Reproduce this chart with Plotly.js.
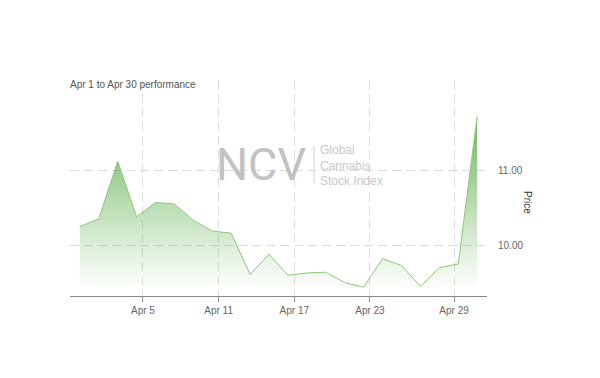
<!DOCTYPE html>
<html>
<head>
<meta charset="utf-8">
<script src="https://cdn.plot.ly/plotly-3.0.1.min.js"></script>
<style>html,body{margin:0;padding:0;background:#fff;}#chart{width:600px;height:378px;}</style>
</head>
<body>
<div id="chart"></div>
<script>
// Trading days (closing values at 16:00)
const dates = ["2019-04-01","2019-04-02","2019-04-03","2019-04-04","2019-04-05",
  "2019-04-08","2019-04-09","2019-04-10","2019-04-11","2019-04-12",
  "2019-04-15","2019-04-16","2019-04-17","2019-04-18","2019-04-19",
  "2019-04-22","2019-04-23","2019-04-24","2019-04-25","2019-04-26",
  "2019-04-29","2019-04-30"];
const prices = [10.26,10.36,11.13,10.39,10.58,
  10.56,10.34,10.20,10.17,9.62,
  9.89,9.61,9.64,9.65,9.51,
  9.45,9.83,9.74,9.46,9.71,
  9.76,11.73];
const tickDates = ["2019-04-05","2019-04-11","2019-04-17","2019-04-23","2019-04-29"];
const tickLabels = ["Apr 5","Apr 11","Apr 17","Apr 23","Apr 29"];
const yTicks = [10, 11];
const watermarkLines = ["Global", "Cannabis", "Stock Index"];

// ordinal axis: points are evenly spaced; tick positions interpolate between closes
const closeTimes = dates.map(d => Date.parse(d + "T16:00:00Z"));
const xIdx = dates.map((d, i) => i);
function ordinalPos(dateStr) {
  const t = Date.parse(dateStr + "T00:00:00Z");
  for (let i = 0; i < closeTimes.length - 1; i++) {
    if (t >= closeTimes[i] && t < closeTimes[i + 1]) {
      return i + (t - closeTimes[i]) / (closeTimes[i + 1] - closeTimes[i]);
    }
  }
  return 0;
}
const tickPos = tickDates.map(ordinalPos);

const trace = {
  x: xIdx, y: prices, type: "scatter", mode: "lines",
  line: {color: "rgb(140,200,120)", width: 1},
  fill: "tozeroy",
  fillgradient: {
    type: "vertical",
    start: 9.42, stop: 11.75,
    colorscale: [[0, "rgba(110,185,95,0)"], [1, "rgba(95,175,80,0.95)"]]
  },
  hoverinfo: "skip"
};

const font = "Liberation Sans, Arial, Helvetica, sans-serif";
const layout = {
  width: 600, height: 378,
  margin: {l: 70, r: 113, t: 80, b: 82},
  paper_bgcolor: "#fff", plot_bgcolor: "#fff",
  showlegend: false,
  font: {family: font, size: 10, color: "#666"},
  title: {text: "Apr 1 to Apr 30 performance", x: 70/600, xanchor: "left",
    y: 1 - 84/378, yanchor: "middle", font: {family: font, size: 10, color: "#555"}},
  xaxis: {
    range: [-0.52, 21.52], tickvals: tickPos, ticktext: tickLabels,
    showgrid: true, gridcolor: "#dcdcdc", griddash: "9px,5px", gridwidth: 1,
    showline: true, linecolor: "#8a8a8a", linewidth: 1,
    ticks: "outside", ticklen: 5, tickcolor: "#8a8a8a",
    zeroline: false, fixedrange: true,
    tickfont: {family: font, size: 10, color: "#666"}
  },
  yaxis: {
    side: "right", range: [9.333, 12.213], tickvals: yTicks, tickformat: ".2f",
    showgrid: true, gridcolor: "#dcdcdc", griddash: "9px,5px", gridwidth: 1,
    showline: false, zeroline: false,
    ticks: "outside", ticklen: 8, tickcolor: "rgba(0,0,0,0)",
    tickfont: {family: font, size: 10, color: "#666"}, fixedrange: true
  },
  shapes: [
    {type: "line", xref: "paper", yref: "paper", x0: (314-70)/417, x1: (314-70)/417,
     y0: (296-183)/216, y1: (296-146)/216, line: {color: "#d0d0d0", width: 1}}
  ],
  annotations: [
    {text: "NCV", xref: "paper", yref: "paper", x: (260.5-70)/417, y: (296-164)/216,
     xanchor: "center", yanchor: "middle", showarrow: false,
     font: {family: "Roboto, Liberation Sans, Arial, sans-serif", size: 45, color: "#c2c2c2"}},
    {text: watermarkLines.join("<br>"), xref: "paper", yref: "paper", x: (319-70)/417, y: (296-165)/216,
     xanchor: "left", yanchor: "middle", align: "left", showarrow: false, borderpad: 0,
     font: {family: font, size: 12, color: "#c8c8c8"}},
    {text: "Price", xref: "paper", yref: "paper", x: (528-70)/417, y: (296-202)/216,
     xanchor: "center", yanchor: "middle", showarrow: false, textangle: 90,
     font: {family: font, size: 10, color: "#333"}}
  ]
};

Plotly.newPlot("chart", [trace], layout, {displayModeBar: false, staticPlot: true});
</script>
</body>
</html>
